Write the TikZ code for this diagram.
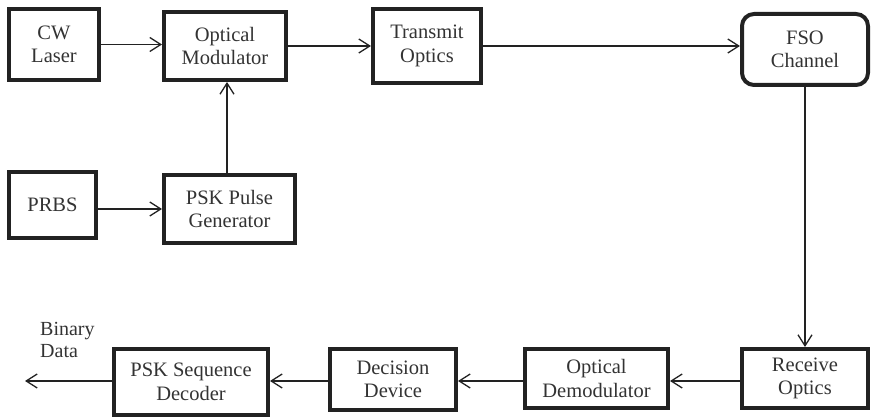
\documentclass[tikz,border=0pt]{standalone}
\usepackage{fontspec}
\setmainfont{Liberation Serif}
\usetikzlibrary{arrows.meta}
\definecolor{ink}{HTML}{222222}
\definecolor{txt}{HTML}{333333}
\begin{document}
\begin{tikzpicture}[x=1pt,y=-1pt,
  block/.style={draw=ink, line width=4pt, inner sep=0pt, align=center,
    text=txt, font=\fontsize{20.5}{23.5}\selectfont},
  roundblock/.style={block, rounded corners=12pt},
  arr/.style={draw=ink, line width=1.3pt,
    -{Straight Barb[length=11pt,width=14pt,line width=1.3pt]}},
  lbl/.style={text=txt, align=left, inner sep=0pt,
    font=\fontsize{20}{22}\selectfont}]
\useasboundingbox (0,0) rectangle (871,419);

% transmitter chain
\node[block, minimum width=90pt, minimum height=71pt] (cw) at (54,44.5) {CW\\Laser};
\node[block, minimum width=122pt, minimum height=68pt] (om) at (225,46) {Optical\\Modulator};
\node[block, minimum width=108pt, minimum height=74pt] (tx) at (427,46) {Transmit\\Optics};
\node[roundblock, minimum width=126pt, minimum height=71pt] (fso) at (805,49.5) {FSO\\Channel};

% data source
\node[block, minimum width=87pt, minimum height=66pt] (prbs) at (52.5,205) {PRBS};
\node[block, minimum width=131pt, minimum height=68pt] (pulse) at (229.5,209) {PSK Pulse\\Generator};

% receiver chain
\node[block, minimum width=126pt, minimum height=59pt] (rx) at (805,378.5) {Receive\\Optics};
\node[block, minimum width=143pt, minimum height=59pt] (demod) at (596.5,378.5) {Optical\\Demodulator};
\node[block, minimum width=126pt, minimum height=61pt] (dec) at (393,379.5) {Decision\\Device};
\node[block, minimum width=154pt, minimum height=66pt] (seq) at (191,382) {PSK Sequence\\Decoder};

\node[lbl, anchor=north west] (bin) at (40,322) {Binary\\Data};
\coordinate (out) at (25,381);

% connectors
\draw[arr] (cw.east) -- (om.west |- cw.east);
\draw[arr] (om.east) -- (tx.west |- om.east);
\draw[arr] (tx.east) -- (fso.west |- tx.east);
\draw[arr] (fso.south) -- (rx.north);
\draw[arr] (prbs.east |- 0,209) -- (pulse.west);
\draw[arr] (227,175) coordinate (pu) -- (pu |- om.south);
\draw[arr] (rx.west |- 0,381) -- (demod.east |- 0,381);
\draw[arr] (demod.west |- 0,381) -- (dec.east |- 0,381);
\draw[arr] (dec.west |- 0,381) -- (seq.east |- 0,381);
\draw[arr] (seq.west |- out) -- (out);
\end{tikzpicture}
\end{document}
